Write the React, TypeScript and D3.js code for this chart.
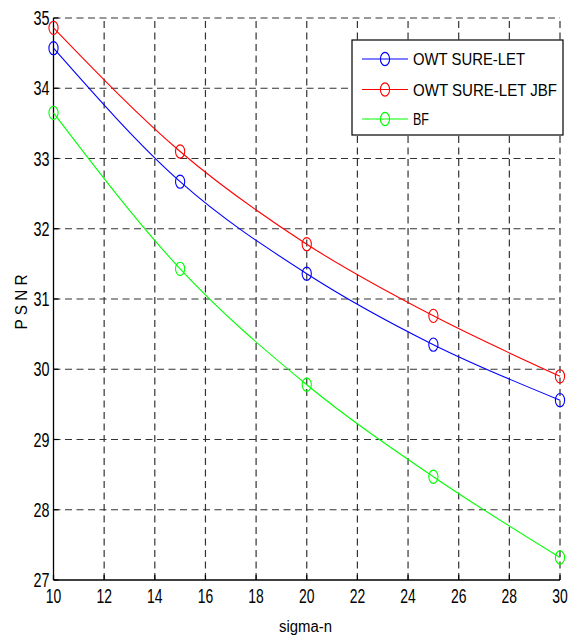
import React from "react";
import * as d3 from "d3";

const sigmaN = [10, 15, 20, 25, 30];
const owtSureLet = [34.57, 32.67, 31.36, 30.35, 29.56];
const owtSureLetJbf = [34.86, 33.1, 31.78, 30.76, 29.9];
const bf = [33.65, 31.43, 29.78, 28.47, 27.32];
const xTicks = [10, 12, 14, 16, 18, 20, 22, 24, 26, 28, 30];
const yTicks = [27, 28, 29, 30, 31, 32, 33, 34, 35];
const seriesNames = ["OWT SURE-LET", "OWT SURE-LET JBF", "BF"];
const seriesColors = ["#0000ff", "#ff0000", "#00ff00"];
const legendWidths = [112, 144, 16];

export default function App() {
  const W = 568, H = 641;
  const x = d3.scaleLinear().domain([10, 30]).range([53.5, 560]);
  const y = d3.scaleLinear().domain([27, 35]).range([580, 18]);
  const series = [owtSureLet, owtSureLetJbf, bf];
  const line = d3
    .line<number>()
    .x((_, i) => x(sigmaN[i]))
    .y((d) => y(d))
    .curve(d3.curveMonotoneX);
  const font = "'Liberation Sans', Arial, sans-serif";
  const gridColor = "#333";
  const dash = "7,4.5";
  return (
    <svg width={W} height={H} style={{ position: "absolute", left: 0, top: 0, background: "#fff" }}>
      <rect width={W} height={H} fill="#fff" />
      {/* grid */}
      {xTicks.slice(1).map((t) => (
        <line key={"gx" + t} x1={x(t)} x2={x(t)} y1={y(27)} y2={y(35)} stroke={gridColor} strokeWidth={1.2} strokeDasharray={dash} />
      ))}
      {yTicks.slice(1).map((t) => (
        <line key={"gy" + t} x1={x(10)} x2={x(30)} y1={y(t)} y2={y(t)} stroke={gridColor} strokeWidth={1.2} strokeDasharray={dash} />
      ))}
      {/* axes */}
      <line x1={x(10)} x2={x(10)} y1={y(27)} y2={y(35)} stroke="#000" strokeWidth={1.3} />
      <line x1={x(10)} x2={x(30)} y1={y(27)} y2={y(27)} stroke="#000" strokeWidth={1.3} />
      {yTicks.map((t) => (
        <g key={"yt" + t}>
          <line x1={x(10)} x2={x(10) + 5} y1={y(t)} y2={y(t)} stroke="#000" strokeWidth={1.2} />
          <text x={49.5} y={y(t) + 7.2} textAnchor="end" fontFamily={font} fontSize={20} textLength={16} lengthAdjust="spacingAndGlyphs" fill="#000">
            {t}
          </text>
        </g>
      ))}
      {xTicks.map((t) => (
        <g key={"xt" + t}>
          <line x1={x(t)} x2={x(t)} y1={y(27)} y2={y(27) - 5} stroke="#000" strokeWidth={1.2} />
          <text x={x(t)} y={603} textAnchor="middle" fontFamily={font} fontSize={20} textLength={15.5} lengthAdjust="spacingAndGlyphs" fill="#000">
            {t}
          </text>
        </g>
      ))}
      {/* series */}
      {series.map((s, si) => (
        <g key={"s" + si}>
          <path d={line(s) || ""} fill="none" stroke={seriesColors[si]} strokeWidth={1.1} />
          {s.map((v, i) => (
            <ellipse key={i} cx={x(sigmaN[i])} cy={y(v)} rx={4.6} ry={6.6} fill="none" stroke={seriesColors[si]} strokeWidth={1.1} />
          ))}
        </g>
      ))}
      {/* labels */}
      <text x={305.5} y={632} textAnchor="middle" fontFamily={font} fontSize={16} textLength={53} lengthAdjust="spacingAndGlyphs" fill="#000">
        sigma-n
      </text>
      <text transform="translate(27,302) rotate(-90)" textAnchor="middle" fontFamily={font} fontSize={16} textLength={55} lengthAdjust="spacingAndGlyphs" fill="#000">
        P S N R
      </text>
      {/* legend */}
      <rect x={352} y={40} width={211} height={95} fill="#fff" stroke="#000" strokeWidth={1.2} />
      {seriesNames.map((n, i) => {
        const ly = [59, 89.5, 119][i];
        return (
          <g key={"l" + i}>
            <line x1={362} x2={408} y1={ly} y2={ly} stroke={seriesColors[i]} strokeWidth={1.1} />
            <ellipse cx={385} cy={ly} rx={4.6} ry={6.6} fill="none" stroke={seriesColors[i]} strokeWidth={1.1} />
            <text x={413} y={ly + 6.2} fontFamily={font} fontSize={17} textLength={legendWidths[i]} lengthAdjust="spacingAndGlyphs" fill="#000">
              {n}
            </text>
          </g>
        );
      })}
    </svg>
  );
}
